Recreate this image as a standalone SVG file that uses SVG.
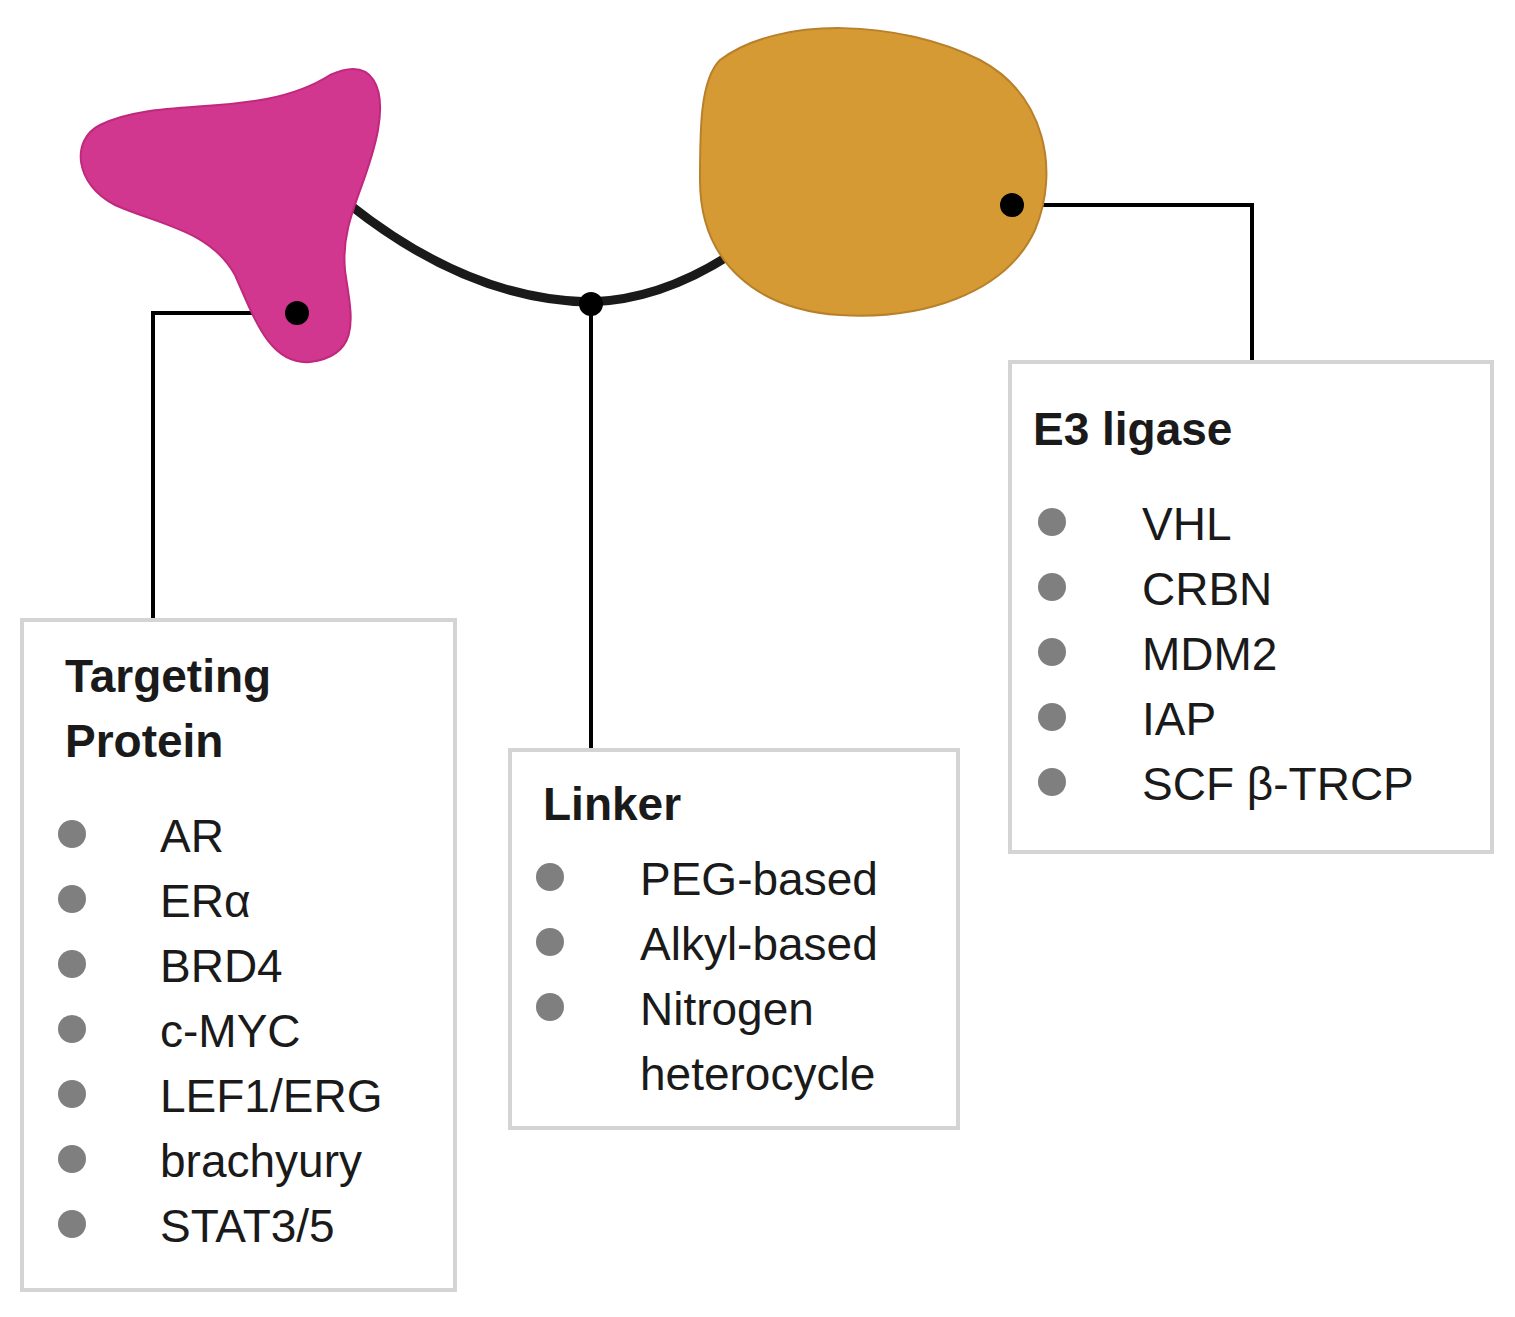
<svg xmlns="http://www.w3.org/2000/svg" width="1515" height="1317" viewBox="0 0 1515 1317">
<style>
.box{fill:#fff;stroke:#d4d4d4;stroke-width:4}
.t{font-family:"Liberation Sans",Arial,sans-serif;font-size:46px;fill:#1a1a1a}
.h{font-weight:bold}
.b{fill:#7f7f7f}
.ln{fill:none;stroke:#000;stroke-width:4}
</style>
<rect width="1515" height="1317" fill="#fff"/>
<g id="connectors">
<path d="M350,205 Q470,300 590,302 Q660,300 730,255" fill="none" stroke="#1a1a1a" stroke-width="9"/>
<path class="ln" d="M297,313 H153 V622"/>
<path class="ln" d="M591,304 V750"/>
<path class="ln" d="M1012,205 H1252 V362"/>
</g>
<g id="target-shape">
<path d="M100,125 C160,95 260,120 330,75 C375,55 385,90 378,130 C368,185 340,220 345,270 C350,310 365,355 310,362 C270,365 255,320 235,275 C210,230 160,225 115,205 C75,185 70,140 100,125 Z" fill="#d2378f" stroke="#c0287d" stroke-width="2"/>
</g>
<g id="e3-shape">
<path d="M720,60 C780,15 900,20 980,60 C1045,95 1060,170 1035,230 C1005,295 920,320 840,315 C760,310 700,265 700,180 C700,130 700,80 720,60 Z" fill="#d69a35" stroke="#b8802a" stroke-width="2"/>
</g>
<g id="dots">
<circle cx="297" cy="313" r="12"/><circle cx="591" cy="304" r="12"/><circle cx="1012" cy="205" r="12"/>
</g>
<g id="targeting">
<rect class="box" x="22" y="620" width="433" height="670"/>
<text class="t h" x="65" y="692">Targeting</text>
<text class="t h" x="65" y="757">Protein</text>
<g class="b"><circle cx="72" cy="834" r="14"/><circle cx="72" cy="899" r="14"/><circle cx="72" cy="964" r="14"/><circle cx="72" cy="1029" r="14"/><circle cx="72" cy="1094" r="14"/><circle cx="72" cy="1159" r="14"/><circle cx="72" cy="1224" r="14"/></g>
<text class="t" x="160" y="852">AR</text>
<text class="t" x="160" y="917">ERα</text>
<text class="t" x="160" y="982">BRD4</text>
<text class="t" x="160" y="1047">c-MYC</text>
<text class="t" x="160" y="1112">LEF1/ERG</text>
<text class="t" x="160" y="1177">brachyury</text>
<text class="t" x="160" y="1242">STAT3/5</text>
</g>
<g id="linker">
<rect class="box" x="510" y="750" width="448" height="378"/>
<text class="t h" x="543" y="820">Linker</text>
<g class="b"><circle cx="550" cy="877" r="14"/><circle cx="550" cy="942" r="14"/><circle cx="550" cy="1007" r="14"/></g>
<text class="t" x="640" y="895">PEG-based</text>
<text class="t" x="640" y="960">Alkyl-based</text>
<text class="t" x="640" y="1025">Nitrogen</text>
<text class="t" x="640" y="1090">heterocycle</text>
</g>
<g id="e3">
<rect class="box" x="1010" y="362" width="482" height="490"/>
<text class="t h" x="1033" y="445">E3 ligase</text>
<g class="b"><circle cx="1052" cy="522" r="14"/><circle cx="1052" cy="587" r="14"/><circle cx="1052" cy="652" r="14"/><circle cx="1052" cy="717" r="14"/><circle cx="1052" cy="782" r="14"/></g>
<text class="t" x="1142" y="540">VHL</text>
<text class="t" x="1142" y="605">CRBN</text>
<text class="t" x="1142" y="670">MDM2</text>
<text class="t" x="1142" y="735">IAP</text>
<text class="t" x="1142" y="800">SCF β-TRCP</text>
</g>
</svg>
